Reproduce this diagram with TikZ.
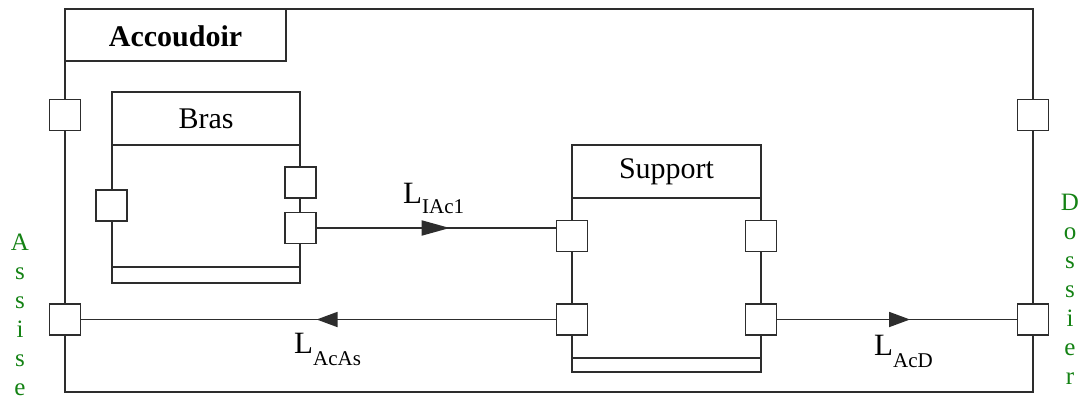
\documentclass[tikz,border=0pt]{standalone}
\usepackage{fontspec}
\setmainfont{Liberation Serif}
\usetikzlibrary{decorations.markings,arrows.meta}
\definecolor{lbl}{RGB}{20,130,20}
\definecolor{ln}{RGB}{45,45,45}
\begin{document}
\begin{tikzpicture}[x=1pt,y=-1pt,
  frame/.style={draw=ln,line width=1.8pt,inner sep=0pt,outer sep=0pt,rectangle,anchor=north west},
  port/.style={draw=ln,fill=white,line width=1.8pt,minimum width=31pt,minimum height=31pt,inner sep=0pt,outer sep=0pt,rectangle},
  wire/.style={draw=ln,line width=1.8pt},
  title/.style={font=\fontsize{30}{30}\selectfont,inner sep=0pt},
  lab/.style={inner sep=0pt,anchor=base west},
  vert/.style={text=lbl,font=\fontsize{25}{29}\selectfont,align=center,anchor=north,inner sep=0pt},
  midarrow/.style 2 args={postaction={decorate},decoration={markings,mark=at position #1 with {\arrow{Triangle[length=#2,width=15pt]}}}}
]
\useasboundingbox (0,0) rectangle (1078,401);
% outer component
\node[frame,minimum width=968pt,minimum height=383pt] (acc) at (65,9) {};
\node[frame,minimum width=221pt,minimum height=52pt] (acct) at (65,9) {};
\node[title,font=\bfseries\fontsize{30}{30}\selectfont] (acctxt) at (175.5,36) {Accoudoir};
% Bras
\node[frame,minimum width=188pt,minimum height=191pt] (bras) at (112,92) {};
\draw[wire] ([yshift=-53pt]bras.north west) -- ([yshift=-53pt]bras.north east);
\draw[wire] ([yshift=16pt]bras.south west) -- ([yshift=16pt]bras.south east);
\node[title] (brastxt) at (206,119) {Bras};
% Support
\node[frame,minimum width=189pt,minimum height=227pt] (sup) at (572,145) {};
\draw[wire] ([yshift=-53pt]sup.north west) -- ([yshift=-53pt]sup.north east);
\draw[wire] ([yshift=14pt]sup.south west) -- ([yshift=14pt]sup.south east);
\node[title] (suptxt) at (666.5,172) {Support};
% ports
\node[port] (pl1) at (65,115) {};
\node[port] (pl2) at (65,319.5) {};
\node[port] (pr1) at (1033,115) {};
\node[port] (pr2) at (1033,319.5) {};
\node[port] (bl) at (111.5,205.5) {};
\node[port] (br1) at (300.5,182.5) {};
\node[port] (br2) at (300.5,228) {};
\node[port] (sl1) at (572,236) {};
\node[port] (sl2) at (572,319.5) {};
\node[port] (sr1) at (761,236) {};
\node[port] (sr2) at (761,319.5) {};
% connectors
\draw[wire,midarrow={0.556}{28pt}] (br2.east) -- (br2.east -| sl1.west);
\draw[wire,midarrow={0.504}{21pt}] (sl2.west) -- (pl2.east);
\draw[wire,midarrow={0.554}{21pt}] (sr2.east) -- (pr2.west);
% labels
\node[lab] (l1) at (403,203) {\fontsize{31}{31}\selectfont L\raisebox{-10pt}{\fontsize{21}{21}\selectfont IAc1}};
\node[lab] (l2) at (294,353) {\fontsize{31}{31}\selectfont L\raisebox{-12pt}{\fontsize{21}{21}\selectfont AcAs}};
\node[lab] (l3) at (874,355) {\fontsize{31}{31}\selectfont L\raisebox{-12pt}{\fontsize{21}{21}\selectfont AcD}};
% side texts
\node[vert] (assise) at (20,234) {A\\s\\s\\i\\s\\e};
\node[vert] (dossier) at (1070,194) {D\\o\\s\\s\\i\\e\\r};
\end{tikzpicture}
\end{document}
